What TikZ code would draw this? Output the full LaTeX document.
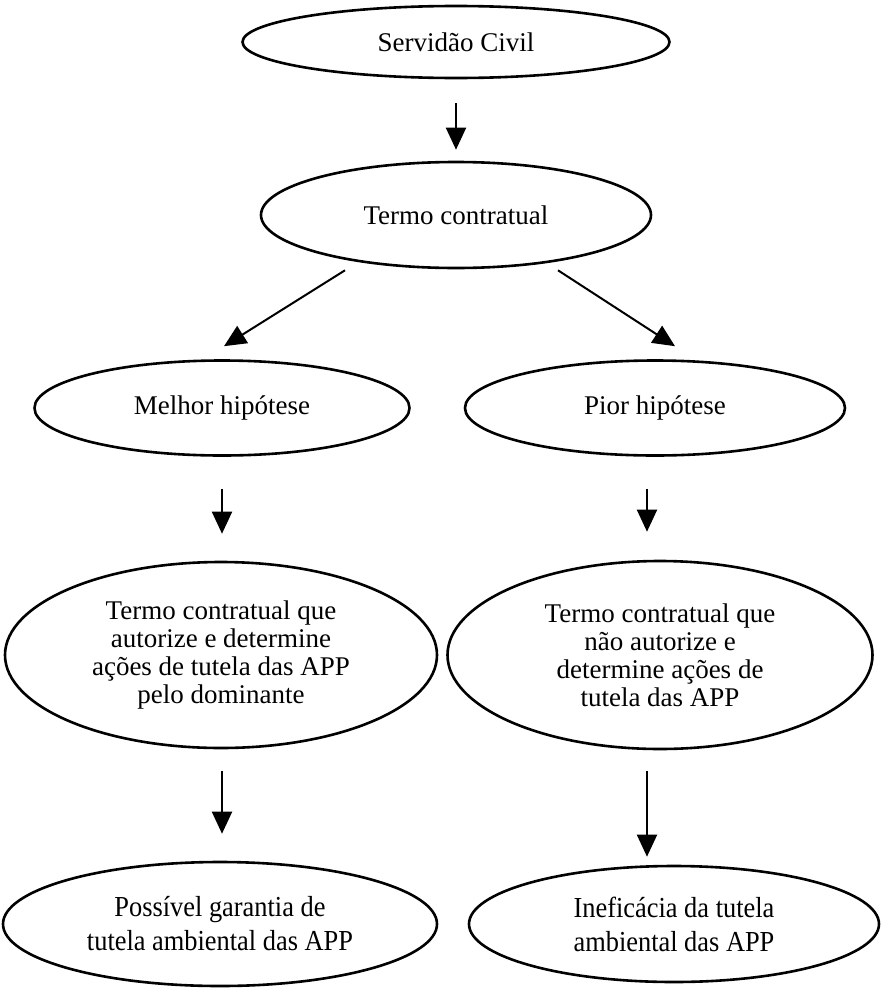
\documentclass[tikz,border=0pt]{standalone}
\usepackage{fontspec}
\setmainfont{Liberation Serif}
\newfontfamily\narrowserif[FakeStretch=0.91]{Liberation Serif}
\usetikzlibrary{shapes.geometric,arrows.meta}
\begin{document}
\begin{tikzpicture}[x=1pt,y=-1pt,
  oval/.style={draw,ellipse,line width=2.6pt,inner sep=0pt,align=center,
    font=\fontsize{27}{28}\selectfont},
  ovalwide/.style={oval,font=\narrowserif\fontsize{29}{34}\selectfont},
  arr/.style={line width=2pt,-{Triangle[length=22pt,width=20pt]}}]
\useasboundingbox (0,0) rectangle (883,988);

% boxes of the flow
\node[oval,minimum width=427pt,minimum height=72pt] (civil) at (456,42) {Servidão Civil};
\node[oval,minimum width=390pt,minimum height=106pt] (termo) at (456,215) {Termo contratual};
\node[oval,minimum width=375pt,minimum height=95pt] (melhor) at (222,408) {Melhor hipótese};
\node[oval,minimum width=380pt,minimum height=95pt] (pior) at (655,408) {Pior hipótese};
\node[oval,minimum width=432pt,minimum height=186pt] (autoriza) at (221,655)
  {Termo contratual que\\autorize e determine\\ações de tutela das APP\\pelo dominante};
\node[oval,minimum width=425pt,minimum height=188pt] (naoautoriza) at (660,655)
  {Termo contratual que\\não autorize e\\determine ações de\\tutela das APP};
\node[ovalwide,minimum width=434pt,minimum height=124pt] (garantia) at (220,924)
  {Possível garantia de\\tutela ambiental das APP};
\node[ovalwide,minimum width=410pt,minimum height=116pt] (ineficacia) at (674,924)
  {Ineficácia da tutela\\ambiental das APP};

% connectors
\draw[arr] ([yshift=-24pt]civil.south) -- ([yshift=11pt]termo.north);
\draw[arr] ([xshift=-111pt,yshift=-1pt]termo.south) -- ([xshift=2pt,yshift=13pt]melhor.north);
\draw[arr] ([xshift=102pt,yshift=-1pt]termo.south) -- ([xshift=20pt,yshift=13pt]pior.north);
\draw[arr] ([yshift=-32pt]melhor.south) -- ([xshift=1pt,yshift=27pt]autoriza.north);
\draw[arr] ([xshift=-8pt,yshift=-32pt]pior.south) -- ([xshift=-13pt,yshift=28pt]naoautoriza.north);
\draw[arr] ([xshift=1pt,yshift=-22pt]autoriza.south) -- ([xshift=2pt,yshift=27pt]garantia.north);
\draw[arr] ([xshift=-13pt,yshift=-21pt]naoautoriza.south) -- ([xshift=-27pt,yshift=8pt]ineficacia.north);
\end{tikzpicture}
\end{document}
